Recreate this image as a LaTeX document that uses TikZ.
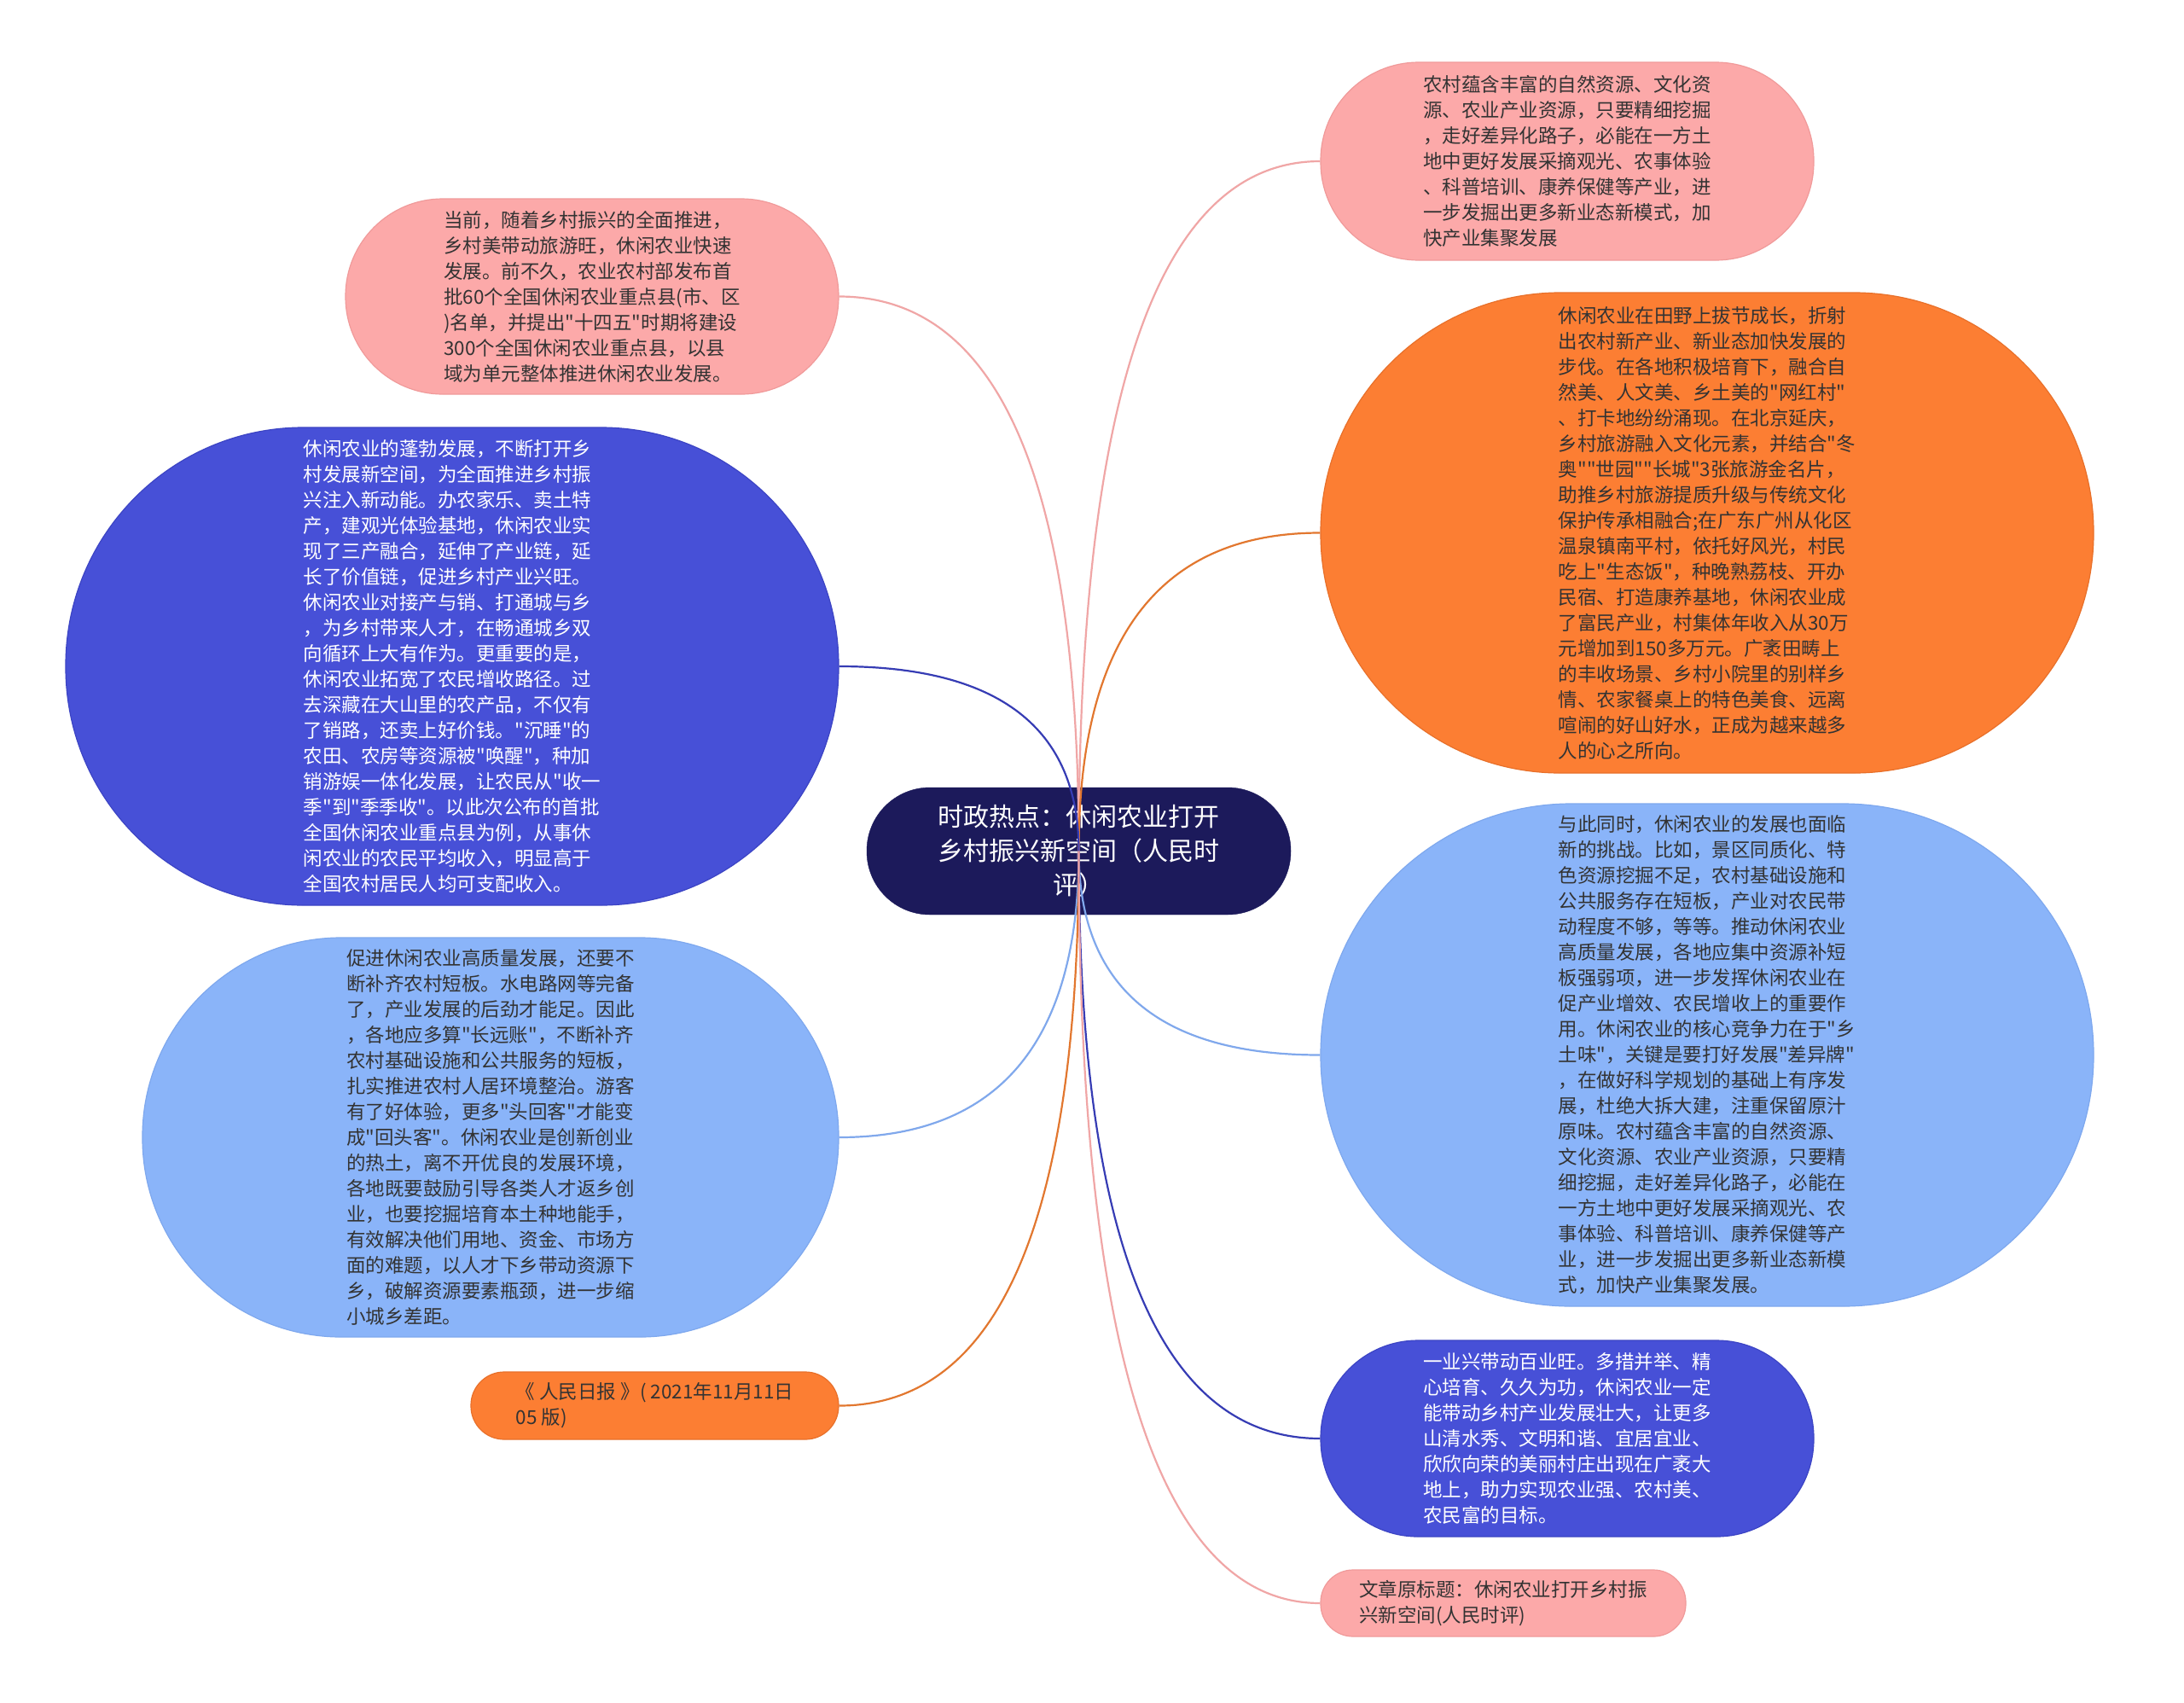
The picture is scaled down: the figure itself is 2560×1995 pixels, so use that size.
\documentclass[tikz,border=0pt]{standalone}
\usepackage{fontspec}
\newfontfamily\mmfont{Noto Sans CJK SC}
\usetikzlibrary{calc}
\definecolor{mmpink}{HTML}{FCA9A9}
\definecolor{mmpinkd}{HTML}{F09A9A}
\definecolor{mmpinkl}{HTML}{F0A6A6}
\definecolor{mmorange}{HTML}{FC7E33}
\definecolor{mmoranged}{HTML}{E8702A}
\definecolor{mmorangel}{HTML}{E2772F}
\definecolor{mmblue}{HTML}{4750D7}
\definecolor{mmblued}{HTML}{3C44C4}
\definecolor{mmbluel}{HTML}{363CB4}
\definecolor{mmlblue}{HTML}{8AB4F9}
\definecolor{mmlblued}{HTML}{7EA8EE}
\definecolor{mmlbluel}{HTML}{80A8EC}
\definecolor{mmnavy}{HTML}{1C1A5B}
\definecolor{mmtext}{HTML}{333333}
\tikzset{
  mmbox/.style={rectangle, inner sep=0pt, align=left, line width=1.2pt,
    font=\mmfont\fontsize{22.5}{30}\selectfont},
  pinkbox/.style={mmbox, fill=mmpink, draw=mmpinkd, text=mmtext},
  orangebox/.style={mmbox, fill=mmorange, draw=mmoranged, text=mmtext},
  bluebox/.style={mmbox, fill=mmblue, draw=mmblued, text=white},
  lbluebox/.style={mmbox, fill=mmlblue, draw=mmlblued, text=mmtext},
  rootbox/.style={rectangle, inner sep=0pt, align=center, fill=mmnavy, draw=mmnavy,
    text=white, font=\mmfont\fontsize{30}{40}\selectfont},
  mmline/.style={line width=2.2pt},
}
\newcommand\mmlink[2]{%
  \coordinate (mmk) at (c.center |- #2);
  \draw[mmline,#1] (c.center) .. controls ($(c.center)!0.6667!(mmk)$) and ($(#2)!0.6667!(mmk)$) .. (#2);}
\begin{document}
\begin{tikzpicture}[x=1pt,y=-1pt]
\fill[white] (0,0) rectangle (2560,1995);
\useasboundingbox (0,0) rectangle (2560,1995);

\node[rootbox, minimum width=497pt, minimum height=149pt, rounded corners=74pt] (c) at (1264.5,997.5)
  {时政热点：休闲农业打开\\乡村振兴新空间（人民时\\评）};

\node[pinkbox, minimum width=578pt, minimum height=232pt, rounded corners=115pt] (n1) at (1837,189)
  {农村蕴含丰富的自然资源、文化资\\源、农业产业资源，只要精细挖掘\\，走好差异化路子，必能在一方土\\地中更好发展采摘观光、农事体验\\、科普培训、康养保健等产业，进\\一步发掘出更多新业态新模式，加\\快产业集聚发展};

\node[pinkbox, minimum width=578pt, minimum height=229pt, rounded corners=114pt] (n2) at (694,347.5)
  {当前，随着乡村振兴的全面推进，\\乡村美带动旅游旺，休闲农业快速\\发展。前不久，农业农村部发布首\\批60个全国休闲农业重点县(市、区\\)名单，并提出"十四五"时期将建设\\300个全国休闲农业重点县，以县\\域为单元整体推进休闲农业发展。};

\node[orangebox, minimum width=906pt, minimum height=563pt, rounded corners=281pt] (n3) at (2001,624.5)
  {休闲农业在田野上拔节成长，折射\\出农村新产业、新业态加快发展的\\步伐。在各地积极培育下，融合自\\然美、人文美、乡土美的"网红村"\\、打卡地纷纷涌现。在北京延庆，\\乡村旅游融入文化元素，并结合"冬\\奥""世园""长城"3张旅游金名片，\\助推乡村旅游提质升级与传统文化\\保护传承相融合;在广东广州从化区\\温泉镇南平村，依托好风光，村民\\吃上"生态饭"，种晚熟荔枝、开办\\民宿、打造康养基地，休闲农业成\\了富民产业，村集体年收入从30万\\元增加到150多万元。广袤田畴上\\的丰收场景、乡村小院里的别样乡\\情、农家餐桌上的特色美食、远离\\喧闹的好山好水，正成为越来越多\\人的心之所向。};

\node[bluebox, minimum width=906pt, minimum height=560pt, rounded corners=279pt] (n4) at (530,781)
  {休闲农业的蓬勃发展，不断打开乡\\村发展新空间，为全面推进乡村振\\兴注入新动能。办农家乐、卖土特\\产，建观光体验基地，休闲农业实\\现了三产融合，延伸了产业链，延\\长了价值链，促进乡村产业兴旺。\\休闲农业对接产与销、打通城与乡\\，为乡村带来人才，在畅通城乡双\\向循环上大有作为。更重要的是，\\休闲农业拓宽了农民增收路径。过\\去深藏在大山里的农产品，不仅有\\了销路，还卖上好价钱。"沉睡"的\\农田、农房等资源被"唤醒"，种加\\销游娱一体化发展，让农民从"收一\\季"到"季季收"。以此次公布的首批\\全国休闲农业重点县为例，从事休\\闲农业的农民平均收入，明显高于\\全国农村居民人均可支配收入。};

\node[lbluebox, minimum width=906pt, minimum height=589pt, rounded corners=294pt] (n6) at (2001,1236.5)
  {与此同时，休闲农业的发展也面临\\新的挑战。比如，景区同质化、特\\色资源挖掘不足，农村基础设施和\\公共服务存在短板，产业对农民带\\动程度不够，等等。推动休闲农业\\高质量发展，各地应集中资源补短\\板强弱项，进一步发挥休闲农业在\\促产业增效、农民增收上的重要作\\用。休闲农业的核心竞争力在于"乡\\土味"，关键是要打好发展"差异牌"\\，在做好科学规划的基础上有序发\\展，杜绝大拆大建，注重保留原汁\\原味。农村蕴含丰富的自然资源、\\文化资源、农业产业资源，只要精\\细挖掘，走好差异化路子，必能在\\一方土地中更好发展采摘观光、农\\事体验、科普培训、康养保健等产\\业，进一步发掘出更多新业态新模\\式，加快产业集聚发展。};

\node[lbluebox, minimum width=816pt, minimum height=468pt, rounded corners=233pt] (n7) at (575,1333)
  {促进休闲农业高质量发展，还要不\\断补齐农村短板。水电路网等完备\\了，产业发展的后劲才能足。因此\\，各地应多算"长远账"，不断补齐\\农村基础设施和公共服务的短板，\\扎实推进农村人居环境整治。游客\\有了好体验，更多"头回客"才能变\\成"回头客"。休闲农业是创新创业\\的热土，离不开优良的发展环境，\\各地既要鼓励引导各类人才返乡创\\业，也要挖掘培育本土种地能手，\\有效解决他们用地、资金、市场方\\面的难题，以人才下乡带动资源下\\乡，破解资源要素瓶颈，进一步缩\\小城乡差距。};

\node[orangebox, minimum width=431pt, minimum height=79pt, rounded corners=39pt] (n8) at (767.5,1647.5)
  {《 人民日报 》( 2021年11月11日\\05 版)};

\node[bluebox, minimum width=578pt, minimum height=230pt, rounded corners=114pt] (n9) at (1837,1686)
  {一业兴带动百业旺。多措并举、精\\心培育、久久为功，休闲农业一定\\能带动乡村产业发展壮大，让更多\\山清水秀、文明和谐、宜居宜业、\\欣欣向荣的美丽村庄出现在广袤大\\地上，助力实现农业强、农村美、\\农民富的目标。};

\node[pinkbox, minimum width=428pt, minimum height=78pt, rounded corners=38pt] (n10) at (1762,1879)
  {文章原标题：休闲农业打开乡村振\\兴新空间(人民时评)};

\mmlink{mmpinkl}{n1.west}
\mmlink{mmpinkl}{n2.east}
\mmlink{mmorangel}{n3.west}
\mmlink{mmbluel}{n4.east}
\mmlink{mmlbluel}{n6.west}
\mmlink{mmlbluel}{n7.east}
\mmlink{mmorangel}{n8.east}
\mmlink{mmbluel}{n9.west}
\mmlink{mmpinkl}{n10.west}
\end{tikzpicture}
\end{document}
